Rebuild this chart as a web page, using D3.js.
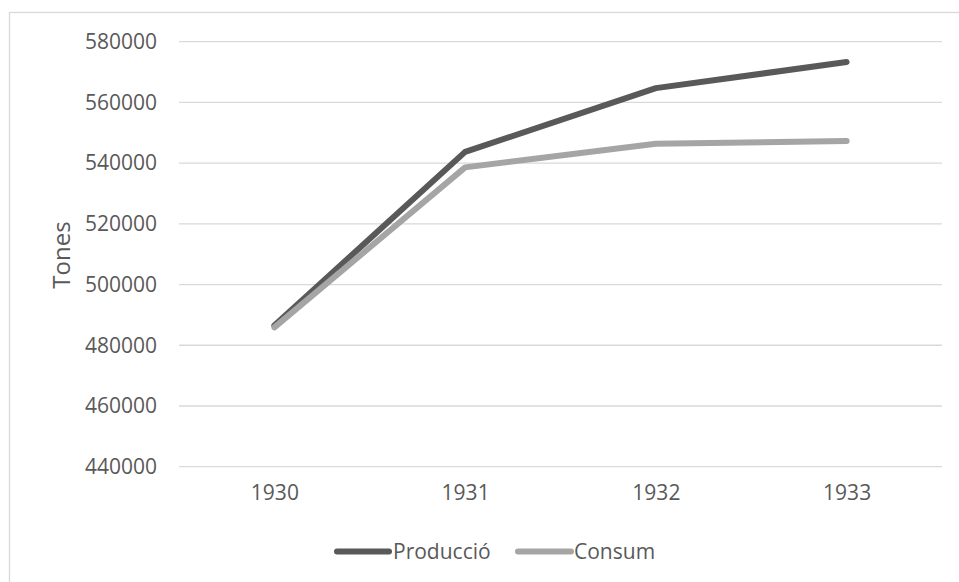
<!DOCTYPE html>
<html>
<head>
<meta charset="utf-8">
<script src="https://cdn.jsdelivr.net/npm/d3@7"></script>
<style>
  html, body { margin: 0; padding: 0; background: #fff; }
  svg { display: block; }
  text { font-family: "Open Sans", "Liberation Sans", sans-serif; fill: #595959; }
</style>
</head>
<body>
<svg id="chart" width="959" height="582"></svg>
<script>
const years = ["1930", "1931", "1932", "1933"];
const produccio = [486500, 543700, 564700, 573300];
const consum = [485900, 538600, 546400, 547300];
const yTicks = [440000, 460000, 480000, 500000, 520000, 540000, 560000, 580000];
const seriesNames = ["Producció", "Consum"];
const seriesColors = ["#595959", "#A5A5A5"];

const svg = d3.select("#chart");

// outer frame
svg.append("rect")
  .attr("x", 9.5).attr("y", 12.5)
  .attr("width", 960).attr("height", 600)
  .attr("fill", "none").attr("stroke", "#D9D9D9").attr("stroke-width", 1.3);

const x = d3.scalePoint().domain(years).range([179, 942]).padding(0.5);
const y = d3.scaleLinear().domain([440000, 580000]).range([466.7, 41.7]);

// gridlines
svg.append("g").selectAll("line").data(yTicks).join("line")
  .attr("x1", 179).attr("x2", 942)
  .attr("y1", d => y(d)).attr("y2", d => y(d))
  .attr("stroke", "#D9D9D9").attr("stroke-width", 1.3);

// y axis labels
const yAxis = d3.axisLeft(y).tickValues(yTicks).tickSize(0).tickPadding(0).tickFormat(d3.format("d"));
const gy = svg.append("g").attr("transform", "translate(157,0)").call(yAxis);
gy.select(".domain").remove();
gy.selectAll("text").attr("font-size", 21).attr("fill", "#595959")
  .style("font-family", "'Open Sans', sans-serif");

// x axis labels
const xAxis = d3.axisBottom(x).tickSize(0).tickPadding(0);
const gx = svg.append("g").attr("transform", "translate(0,485)").call(xAxis);
gx.select(".domain").remove();
gx.selectAll("text").attr("font-size", 21).attr("fill", "#595959")
  .style("font-family", "'Open Sans', sans-serif");

// axis title
svg.append("text")
  .attr("transform", "translate(70,255) rotate(-90)")
  .attr("text-anchor", "middle")
  .attr("font-size", 24)
  .text("Tones");

// lines
const line = d3.line().x((d, i) => x(years[i])).y(d => y(d));
[produccio, consum].forEach((data, i) => {
  svg.append("path")
    .datum(data)
    .attr("d", line)
    .attr("fill", "none")
    .attr("stroke", seriesColors[i])
    .attr("stroke-width", 6)
    .attr("stroke-linecap", "round")
    .attr("stroke-linejoin", "round");
});

// legend
const legendItems = [
  { name: seriesNames[0], color: seriesColors[0], x1: 337, x2: 389, tx: 393 },
  { name: seriesNames[1], color: seriesColors[1], x1: 518, x2: 571, tx: 574 }
];
const lg = svg.append("g");
legendItems.forEach(it => {
  lg.append("line")
    .attr("x1", it.x1).attr("x2", it.x2).attr("y1", 551.5).attr("y2", 551.5)
    .attr("stroke", it.color).attr("stroke-width", 6).attr("stroke-linecap", "round");
  lg.append("text")
    .attr("x", it.tx).attr("y", 551.5).attr("dy", "0.35em")
    .attr("font-size", 21)
    .text(it.name);
});
</script>
</body>
</html>
